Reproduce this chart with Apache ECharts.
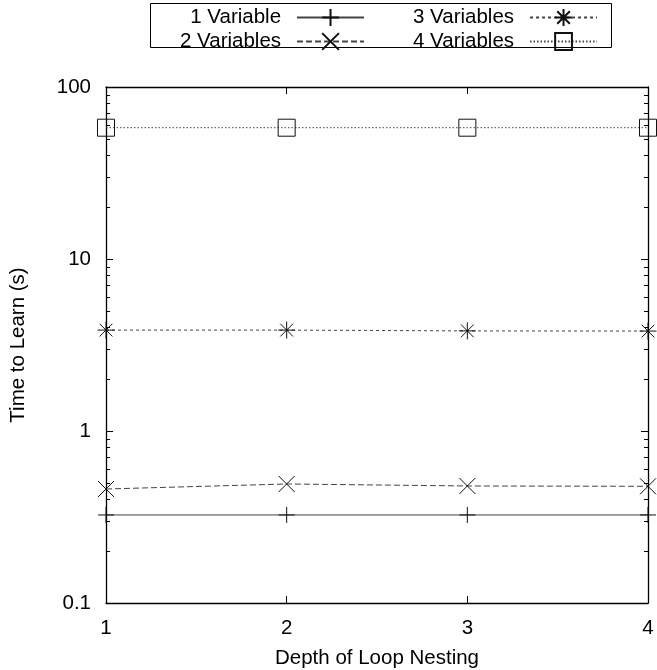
<!DOCTYPE html>
<html>
<head>
<meta charset="utf-8">
<script src="https://cdn.jsdelivr.net/npm/echarts@6/dist/echarts.min.js"></script>
<style>html,body{margin:0;padding:0;background:#fff;}#c{width:657px;height:670px;}</style>
</head>
<body>
<div id="c"></div>
<script>
const depths = [1, 2, 3, 4];
const oneVar = [0.325, 0.325, 0.325, 0.325];
const twoVar = [0.46, 0.492, 0.479, 0.477];
const threeVar = [3.86, 3.86, 3.82, 3.81];
const fourVar = [58.0, 58.0, 58.0, 58.0];
const seriesNames = ['1 Variable', '2 Variables', '3 Variables', '4 Variables'];
const yTicks = [0.1, 1, 10, 100];

const FONT = 'Liberation Sans, Arial, sans-serif';
const FS = 20.5;
const pairs = v => depths.map((d, i) => [d, v[i]]);

const symPlus = 'path://M0,-1L0,1M-1,0L1,0';
const symCross = 'path://M-1,-1L1,1M-1,1L1,-1';
const symStar = 'path://M0,-1L0,1M-1,0L1,0M-0.75,-0.75L0.75,0.75M-0.75,0.75L0.75,-0.75';
const symSquare = 'path://M-1,-1L1,-1L1,1L-1,1Z';

function mk(name, data, symbol, size, lineType, lineColor) {
  return {
    name: name, type: 'line', data: pairs(data),
    symbol: symbol, symbolSize: size, showSymbol: true,
    lineStyle: { color: lineColor, width: 1, type: lineType },
    itemStyle: { color: 'rgba(0,0,0,0)', borderColor: '#111', borderWidth: 1 },
    emphasis: { disabled: true }, animation: false, z: 3
  };
}

const chart = echarts.init(document.getElementById('c'), null, { renderer: 'canvas' });
const legendText = { fontFamily: FONT, fontSize: FS, color: '#000', width: 112, align: 'right', padding: [0, 11, 0, 0] };
const legendCommon = { orient: 'vertical', top: 7, align: 'right', itemWidth: 67, itemHeight: 21,
  itemGap: 3, textStyle: legendText, selectedMode: false, padding: 0 };
chart.setOption({
  animation: false,
  backgroundColor: '#fff',
  grid: { left: 106, right: 9, top: 87, bottom: 67, containLabel: false, outerBoundsMode: 'none' },
  legend: [
    Object.assign({ data: ['1 Variable', '2 Variables'], left: 180 }, legendCommon),
    Object.assign({ data: ['3 Variables', '4 Variables'], left: 413 }, legendCommon)
  ],
  graphic: [{ type: 'rect', shape: { x: 150.5, y: 3.5, width: 461, height: 44 },
    style: { fill: 'none', stroke: '#000', lineWidth: 1 }, z: 0 }],
  xAxis: [
    { type: 'value', min: 1, max: 4, interval: 1, position: 'bottom',
      name: 'Depth of Loop Nesting', nameLocation: 'middle', nameGap: 45,
      nameTextStyle: { fontFamily: FONT, fontSize: FS, color: '#000' },
      axisLine: { show: true, lineStyle: { color: '#000', width: 1.3 } },
      axisTick: { show: true, inside: true, length: 7, lineStyle: { color: '#000' } },
      axisLabel: { fontFamily: FONT, fontSize: FS, color: '#000', margin: 15 },
      splitLine: { show: false } },
    { type: 'value', min: 1, max: 4, interval: 1, position: 'top',
      axisLine: { show: true, lineStyle: { color: '#000', width: 1.3 } },
      axisTick: { show: true, inside: true, length: 7, lineStyle: { color: '#000' } },
      axisLabel: { show: false }, splitLine: { show: false } }
  ],
  yAxis: [
    { type: 'log', logBase: 10, min: 0.1, max: 100, position: 'left',
      name: 'Time to Learn (s)', nameLocation: 'middle', nameGap: 77, nameRotate: 90,
      nameTextStyle: { fontFamily: FONT, fontSize: FS, color: '#000' },
      axisLine: { show: true, lineStyle: { color: '#000', width: 1.3 } },
      axisTick: { show: true, inside: true, length: 7, lineStyle: { color: '#000' } },
      minorTick: { show: true, splitNumber: 9, length: 4, lineStyle: { color: '#000' } },
      axisLabel: { fontFamily: FONT, fontSize: FS, color: '#000', margin: 15,
        formatter: v => { const t = yTicks.find(x => Math.abs(x - v) < 1e-9 * Math.max(1, v)); return t === undefined ? '' : String(t); } },
      splitLine: { show: false }, minorSplitLine: { show: false } },
    { type: 'log', logBase: 10, min: 0.1, max: 100, position: 'right',
      axisLine: { show: true, lineStyle: { color: '#000', width: 1.3 } },
      axisTick: { show: true, inside: true, length: 7, lineStyle: { color: '#000' } },
      minorTick: { show: true, splitNumber: 9, length: 4, lineStyle: { color: '#000' } },
      axisLabel: { show: false }, splitLine: { show: false } }
  ],
  series: [
    mk(seriesNames[0], oneVar, symPlus, 16, 'solid', '#444'),
    mk(seriesNames[1], twoVar, symCross, 16, [6, 3], '#444'),
    mk(seriesNames[2], threeVar, symStar, 17, [3, 3], '#444'),
    mk(seriesNames[3], fourVar, symSquare, 17, [1.5, 2], '#444')
  ]
});
</script>
</body>
</html>
